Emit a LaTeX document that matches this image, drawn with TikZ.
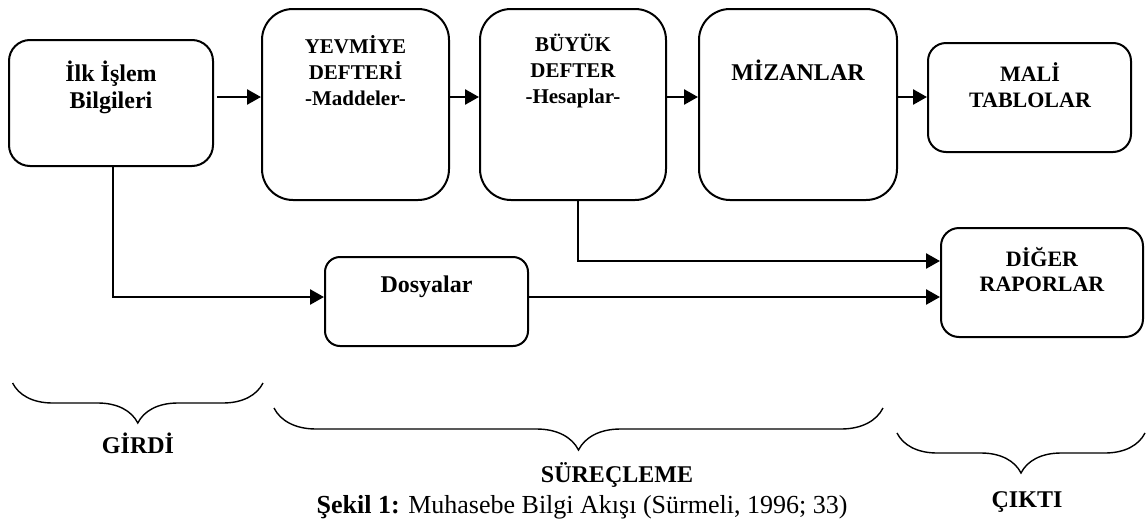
\documentclass[tikz,border=0pt]{standalone}
\usepackage{fontspec}
\setmainfont{Liberation Serif}
\usepackage{tikz}
\usetikzlibrary{positioning}
\usetikzlibrary{arrows.meta}
\usetikzlibrary{decorations.pathreplacing}
\tikzset{box/.style={draw, line width=1pt, rectangle, inner sep=0pt}}
\tikzset{conn/.style={line width=1.3pt, -{Triangle[length=7pt,width=7.5pt]}}}
\tikzset{brc/.style={decorate, decoration={brace, amplitude=#1}, line width=0.7pt}}
\tikzset{lbl/.style={align=center, font=\fontsize{12}{13.5}\selectfont\bfseries}}
\tikzset{small/.style={align=center, font=\fontsize{10.5}{13}\selectfont\bfseries}}

\begin{document}
\begin{tikzpicture}[x=0.5pt, y=-0.5pt]
  \useasboundingbox (0,0) rectangle (1146,520);
  \coordinate (r1) at (0,97);
  \coordinate (r2) at (0,261);
  \coordinate (r3) at (0,297);
  % kutular
  \node[box, rounded corners=10.5pt, minimum width=102pt, minimum height=63pt] (ilk) at (111,103) {};
  \node[box, rounded corners=15.5pt, minimum width=93.5pt, minimum height=95.5pt] (yev) at (355.5,104.5) {};
  \node[box, rounded corners=15.5pt, minimum width=93pt, minimum height=95.5pt] (buy) at (573,104.5) {};
  \node[box, rounded corners=15.5pt, minimum width=99pt, minimum height=95.5pt] (miz) at (798,104.5) {};
  \node[box, rounded corners=9pt, minimum width=101.5pt, minimum height=54.5pt] (mali) at (1029.5,97.5) {};
  \node[box, rounded corners=7.5pt, minimum width=101.5pt, minimum height=44.5pt] (dos) at (426.5,301.5) {};
  \node[box, rounded corners=9pt, minimum width=101pt, minimum height=54.5pt] (dig) at (1042,282.5) {};
  % yazilar
  \node[lbl] (ilk-t) at (111,87) {İlk İşlem\\Bilgileri};
  \node[small] (yev-t) at (355.5,71) {YEVMİYE\\DEFTERİ\\-Maddeler-};
  \node[small] (buy-t) at (573,71) {BÜYÜK\\DEFTER\\-Hesaplar-};
  \node[lbl] (miz-t) at (798,70) {MİZANLAR};
  \node[lbl, font=\fontsize{11}{13}\selectfont\bfseries] (mali-t) at (1030,85) {MALİ\\TABLOLAR};
  \node[lbl] (dos-t) at (426.5,287) {Dosyalar};
  \node[lbl, font=\fontsize{11}{12.5}\selectfont\bfseries] (dig-t) at (1042,270) {DİĞER\\RAPORLAR};
  % oklar
  \draw[conn, shorten <=1.5pt] (ilk.east |- r1) -- (yev.west |- r1);
  \foreach \a/\b in {yev/buy, buy/miz, miz/mali}
    \draw[conn] (\a.east |- r1) -- (\b.west |- r1);
  \draw[conn] ([xshift=1pt]ilk.south) |- (dos.west |- r3);
  \draw[conn] ([xshift=2.5pt]buy.south) |- (dig.west |- r2);
  \draw[conn] (dos.east |- r3) -- (dig.west |- r3);
  % parantezler
  \draw[brc=20pt] (263,383) -- (12.6,383);
  \draw[brc=21pt] (883,408) -- (274,408);
  \draw[brc=20pt] (1145,433) -- (897,433);
  \node[lbl] (girdi) at (138,443) {GİRDİ};
  \node[lbl] (surec) at (617,475) {SÜREÇLEME};
  \node[lbl] (cikti) at (1027,502) {ÇIKTI};
  \node[anchor=base, font=\fontsize{13}{15}\selectfont] (cap) at (582,513) {\textbf{Şekil 1:} Muhasebe Bilgi Akışı (Sürmeli, 1996; 33)};
\end{tikzpicture}
\end{document}
